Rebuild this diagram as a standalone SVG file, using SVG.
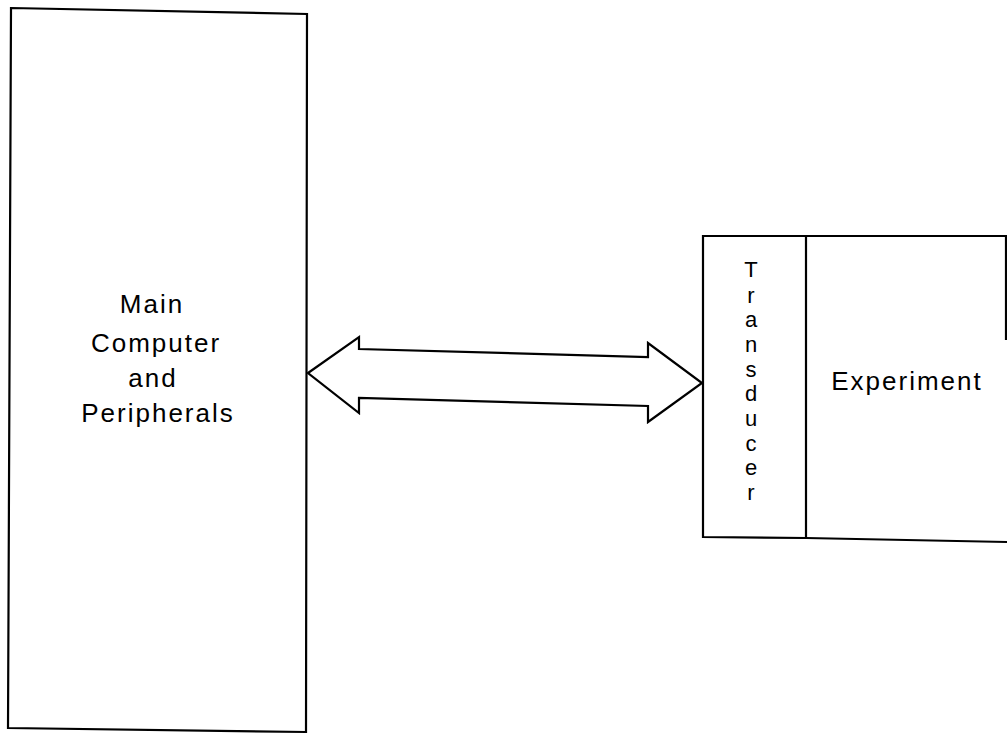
<svg xmlns="http://www.w3.org/2000/svg" width="1007" height="736" viewBox="0 0 1007 736">
<style>
.box{fill:none;stroke:#000;stroke-width:2.2;stroke-linejoin:miter}
.lbl{font-family:"Liberation Sans",Arial,sans-serif;font-size:26px;letter-spacing:2px;fill:#000;text-anchor:middle}
.v{font-family:"Liberation Sans",Arial,sans-serif;font-size:22px;fill:#000;text-anchor:middle}
.vt{font-size:26px}
</style>
<rect width="1007" height="736" fill="#fff"/>
<g id="main-computer">
<polygon class="box" points="11,8 307,14 306,732 8,728"/>
<text class="lbl" x="152" y="313">Main</text>
<text class="lbl" x="156" y="352">Computer</text>
<text class="lbl" x="153" y="387">and</text>
<text class="lbl" x="158" y="422">Peripherals</text>
</g>
<g id="transducer">
<polyline class="box" points="806,236 703,236 703,537 806,538"/>
<text class="v" x="751" y="277">T</text>
<text class="v" x="751" y="302.7">r</text>
<text class="v" x="751" y="327.3">a</text>
<text class="v" x="751" y="352">n</text>
<text class="v" x="751" y="376.7">s</text>
<text class="v" x="751" y="401.3">d</text>
<text class="v" x="751" y="426">u</text>
<text class="v" x="751" y="450.7">c</text>
<text class="v" x="751" y="475.3">e</text>
<text class="v" x="751" y="500">r</text>
</g>
<g id="experiment">
<polyline class="box" points="806,236 1006,236 1006,340"/>
<line class="box" x1="806" y1="236" x2="806" y2="538"/>
<polyline class="box" points="806,538 1007,542"/>
<text class="lbl" x="907" y="390">Experiment</text>
</g>
<g id="connectors">
<polygon class="box" points="308,373 359,337 359,349 648,357 648,343 702,383 648,422 648,406 359,398 359,413"/>
</g>
</svg>
